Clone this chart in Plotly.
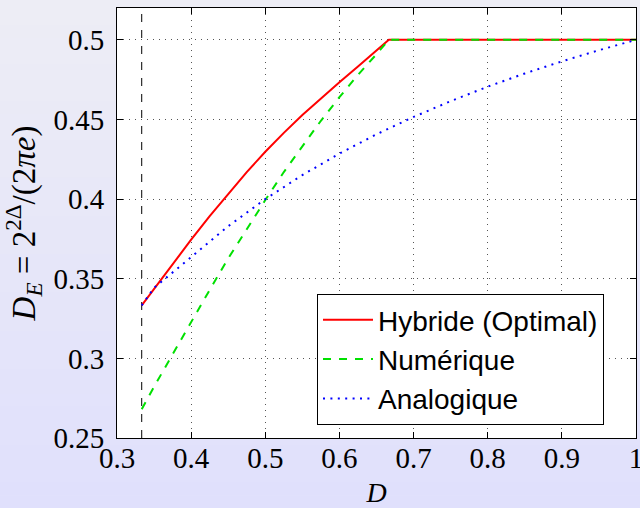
import plotly.graph_objects as go

# ---- data ----
D_hyb = [1/3, 0.35, 0.375, 0.4, 0.425, 0.45, 0.475, 0.5, 0.525, 0.55, 0.575, 0.6, 0.625, 0.65, 2/3, 1.0]
E_hyb = [0.3333, 0.3437, 0.3593, 0.3745, 0.3893, 0.4035, 0.4170, 0.4297, 0.4416, 0.4528,
         0.4633, 0.4733, 0.4833, 0.4933, 0.5, 0.5]

D_num = [1/3, 0.35, 0.375, 0.4, 0.425, 0.45, 0.475, 0.5, 0.525, 0.55, 0.575, 0.6, 0.625, 0.65, 2/3, 1.0]
E_num = [0.268, 0.2822, 0.3025, 0.323, 0.343, 0.3628, 0.3815, 0.3994, 0.4170, 0.4335,
         0.4492, 0.4640, 0.4780, 0.4910, 0.5, 0.5]

D_ana = [1/3, 0.35, 0.4, 0.45, 0.5, 0.55, 0.6, 0.65, 0.7, 0.75, 0.8, 0.85, 0.9, 0.95, 1.0]
E_ana = [0.3333, 0.3443, 0.3636, 0.383, 0.4, 0.4151, 0.4286, 0.4407, 0.4516, 0.4615,
         0.4706, 0.4789, 0.4865, 0.4935, 0.5]

D_vline = [1/3, 1/3]
E_vline = [0.25, 0.52]

names = ["Hybride (Optimal)", "Numérique", "Analogique"]

x_ticks = [0.3, 0.4, 0.5, 0.6, 0.7, 0.8, 0.9, 1.0]
x_labels = ["0.3", "0.4", "0.5", "0.6", "0.7", "0.8", "0.9", "1"]
y_ticks = [0.25, 0.3, 0.35, 0.4, 0.45, 0.5]
y_labels = ["0.25", "0.3", "0.35", "0.4", "0.45", "0.5"]

# ---- figure ----
W, H = 640, 508
ML, MR, MT, MB = 117, 4, 8, 70
PW, PH = W - ML - MR, H - MT - MB

fig = go.Figure()
fig.add_trace(go.Scatter(x=D_vline, y=E_vline, mode="lines", showlegend=False,
                         line=dict(color="black", width=1, dash="8px,8px"), hoverinfo="skip"))
fig.add_trace(go.Scatter(x=D_hyb, y=E_hyb, mode="lines", name=names[0],
                         line=dict(color="#ff0000", width=2)))
fig.add_trace(go.Scatter(x=D_num, y=E_num, mode="lines", name=names[1],
                         line=dict(color="#00e000", width=2, dash="8px,8px")))
fig.add_trace(go.Scatter(x=D_ana, y=E_ana, mode="lines", name=names[2],
                         line=dict(color="#0000ff", width=2, dash="2px,5.4px")))

# background gradient (lavender), then white plot area
shapes = []
N = 40
top = (237, 237, 245)
bot = (224, 224, 252)
for i in range(N):
    py0 = H * i / N
    py1 = H * (i + 1) / N + 0.5
    t = (i + 0.5) / N
    c = tuple(round(top[k] + (bot[k] - top[k]) * t) for k in range(3))
    shapes.append(dict(type="rect", xref="paper", yref="paper", layer="below",
                       x0=-ML / PW, x1=(W - ML) / PW,
                       y0=(MT + PH - py1) / PH, y1=(MT + PH - py0) / PH,
                       line=dict(width=0), fillcolor="rgb(%d,%d,%d)" % c))
shapes.append(dict(type="rect", xref="paper", yref="paper", layer="below",
                   x0=0, x1=1, y0=0, y1=1, line=dict(width=0), fillcolor="white"))

serif = "Liberation Serif"
axis_common = dict(showgrid=True, gridcolor="#555555", gridwidth=1, griddash="1px,5px",
                   showline=True, linecolor="black", linewidth=1, mirror="allticks",
                   ticks="inside", ticklen=6, tickcolor="black", tickwidth=1,
                   zeroline=False, ticklabeloverflow="allow", automargin=False,
                   tickfont=dict(family=serif, size=29, color="black"))

fig.update_layout(
    template="none",
    width=W, height=H,
    margin=dict(l=ML, r=MR, t=MT, b=MB, pad=0),
    paper_bgcolor="rgb(230,230,248)",
    plot_bgcolor="white",
    shapes=shapes,
    xaxis=dict(range=[0.3, 1.0], tickvals=x_ticks, ticktext=x_labels,
               ticklabelstandoff=-6,
               title=dict(text="<i>D</i>", font=dict(family=serif, size=28, color="black"),
                          standoff=14),
               **axis_common),
    yaxis=dict(range=[0.25, 0.52], tickvals=y_ticks, ticktext=y_labels,
               ticklabelstandoff=6,
               title=dict(text="<i>D<sub>E</sub></i> = 2<sup>2Δ</sup>/(2<i>πe</i>)",
                          font=dict(family=serif, size=33, color="black"), standoff=8),
               **axis_common),
    legend=dict(x=(317 - ML) / PW, y=(MT + PH - 425) / PH, xanchor="left", yanchor="bottom",
                bgcolor="white", bordercolor="black", borderwidth=1,
                font=dict(family="Liberation Sans", size=28, color="black"),
                itemwidth=50, tracegroupgap=0),
    showlegend=True,
)

fig.write_html("out.html", config={"displayModeBar": False},
               post_script="document.body.style.margin='0';document.body.style.overflow='hidden';")
